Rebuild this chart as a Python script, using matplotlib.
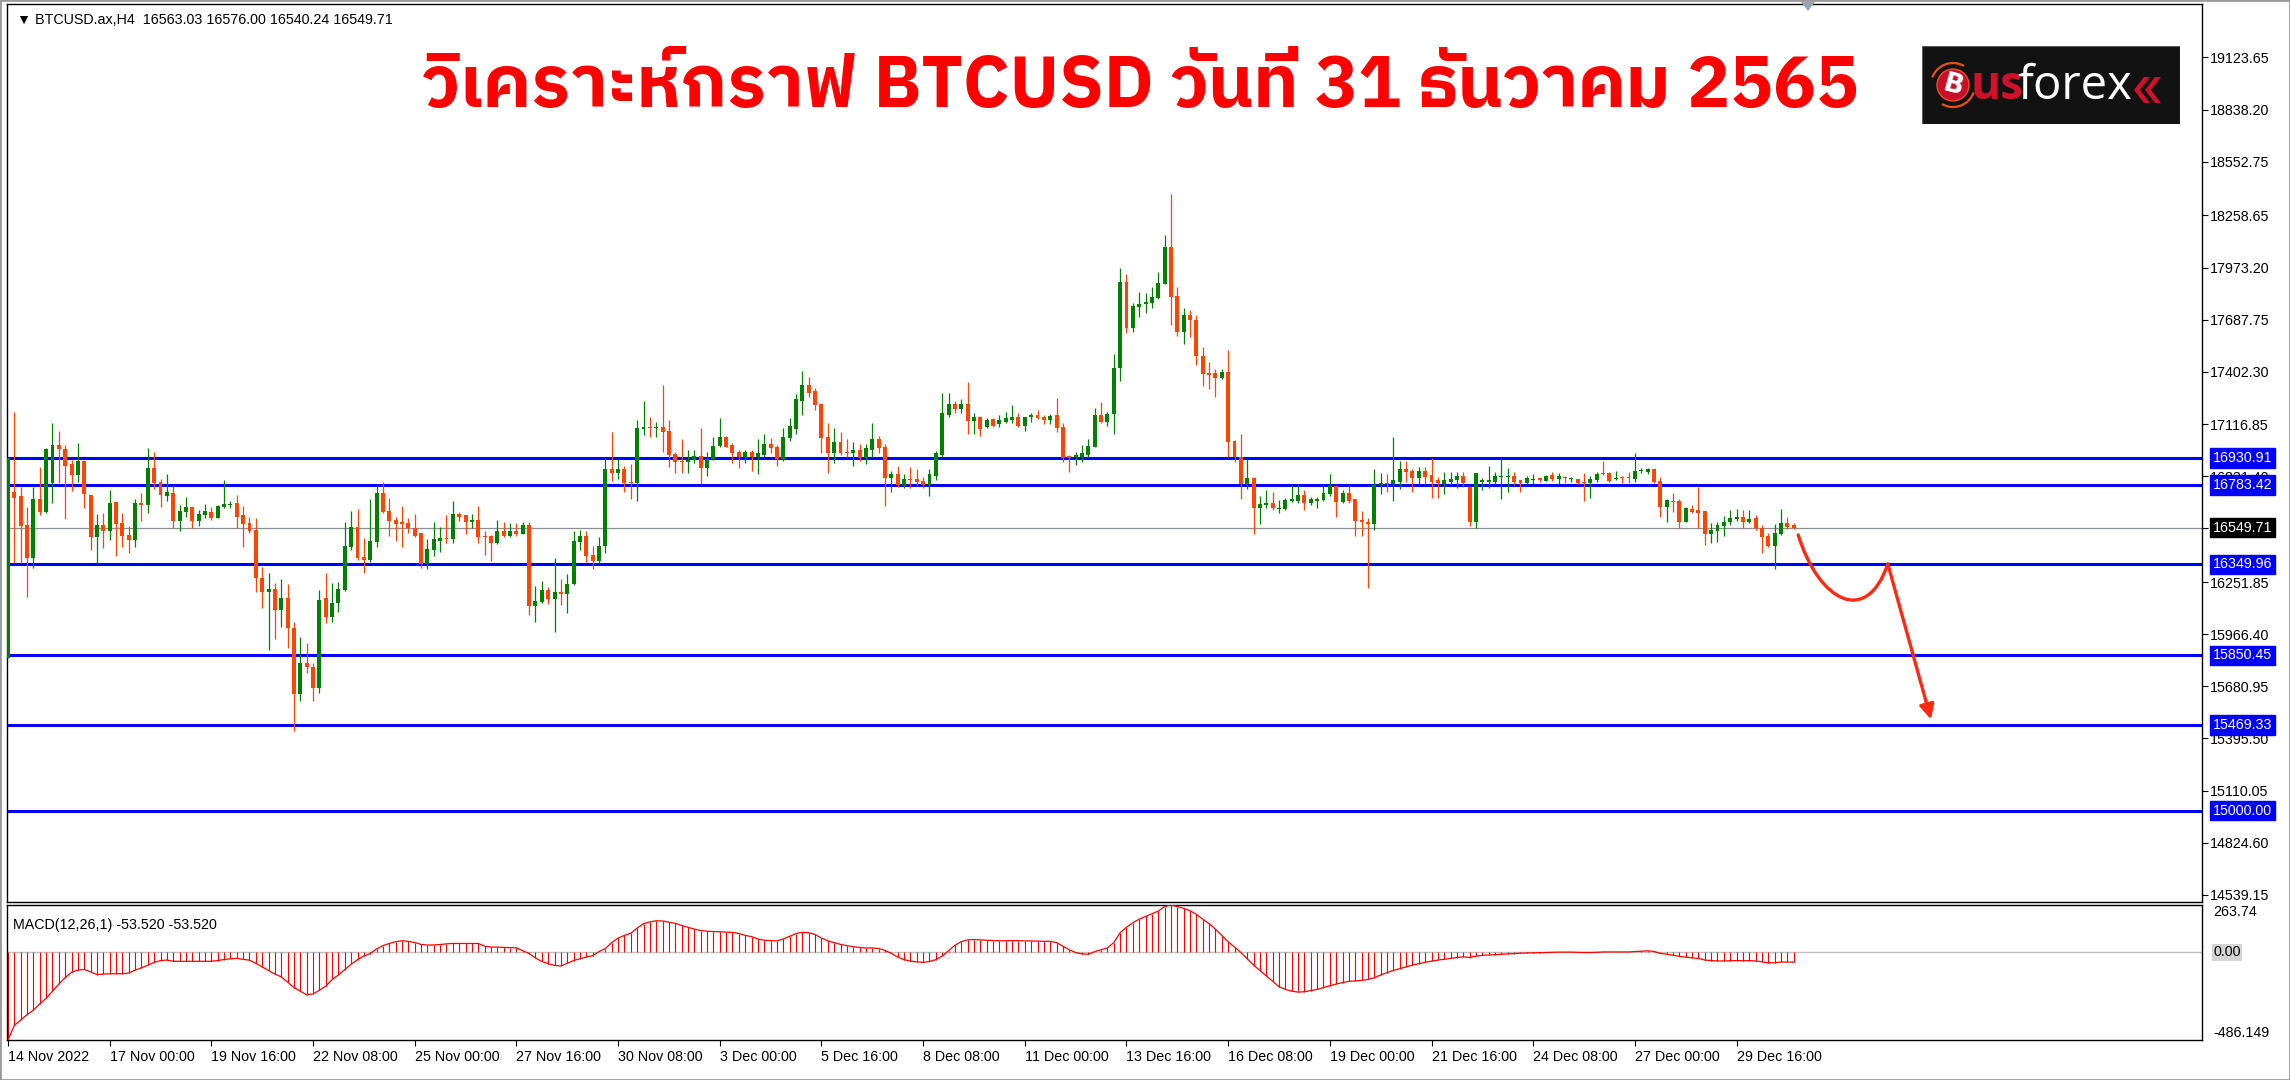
import numpy as np
import matplotlib
matplotlib.use("Agg")
import matplotlib.pyplot as plt
import matplotlib.transforms as mtransforms
from matplotlib import font_manager
from matplotlib.ft2font import FT2Font
from matplotlib.patches import Rectangle, Circle, Polygon, PathPatch, Arc
from matplotlib.path import Path

# H4 candles, 14 Nov 2022 08:00 -> 31 Dec 2022 04:00
opens = [
    15834, 16747, 16723, 16564, 16385, 16705, 16637, 16792, 17000, 16980,
    16896, 16838, 16915, 16728, 16497, 16564, 16533, 16690, 16573, 16511,
    16482, 16686, 16672, 16878, 16798, 16725, 16738, 16586, 16637, 16661,
    16586, 16619, 16634, 16604, 16664, 16672, 16683, 16619, 16573, 16537,
    16276, 16196, 16214, 16099, 16163, 15998, 15637, 15807, 15789, 15670,
    16163, 16062, 16135, 16208, 16446, 16555, 16387, 16373, 16473, 16738,
    16641, 16592, 16582, 16573, 16546, 16519, 16349, 16427, 16478, 16495,
    16488, 16624, 16619, 16579, 16592, 16506, 16506, 16464, 16531, 16506,
    16531, 16515, 16564, 16123, 16141, 16208, 16159, 16199, 16185, 16239,
    16473, 16506, 16400, 16367, 16449, 16871, 16847, 16871, 16798, 16792,
    17090, 17103, 17097, 17103, 17079, 16953, 16915, 16907, 16920, 16944,
    16874, 16925, 16998, 17044, 17002, 16966, 16938, 16966, 16938, 16947,
    17008, 16993, 16924, 17039, 17090, 17245, 17331, 17298, 17227, 17044,
    16957, 17017, 16966, 16957, 16975, 16929, 16975, 17035, 16993, 16820,
    16843, 16783, 16816, 16816, 16807, 16783, 16834, 16947, 17166, 17227,
    17199, 17227, 17135, 17157, 17099, 17143, 17117, 17130, 17139, 17157,
    17106, 17154, 17166, 17157, 17139, 17166, 17103, 16942, 16938, 16938,
    16947, 16993, 17166, 17126, 17170, 17422, 17896, 17641, 17760, 17772,
    17778, 17805, 17884, 18088, 17818, 17623, 17714, 17687, 17491, 17395,
    17395, 17367, 17400, 17026, 16938, 16789, 16823, 16655, 16674, 16686,
    16652, 16652, 16697, 16697, 16728, 16683, 16697, 16701, 16732, 16780,
    16688, 16738, 16705, 16592, 16582, 16568, 16783, 16796, 16789, 16801,
    16869, 16862, 16820, 16862, 16838, 16811, 16789, 16801, 16811, 16834,
    16774, 16579, 16801, 16801, 16801, 16829, 16829, 16834, 16811, 16792,
    16811, 16822, 16805, 16838, 16814, 16829, 16816, 16816, 16801, 16792,
    16811, 16847, 16847, 16816, 16829, 16829, 16816, 16860, 16856, 16869,
    16807, 16664, 16696, 16697, 16582, 16652, 16646, 16641, 16515, 16533,
    16560, 16579, 16597, 16606, 16582, 16601, 16546, 16506, 16449, 16515,
    16573, 16563.03]
highs = [
    16929, 17185, 16774, 16664, 16774, 16880, 16985, 17124, 17079, 17000,
    16920, 17011, 16920, 16730, 16624, 16628, 16756, 16692, 16628, 16559,
    16705, 16738, 16984, 16966, 16816, 16842, 16778, 16674, 16719, 16663,
    16646, 16677, 16664, 16672, 16811, 16697, 16728, 16668, 16610, 16601,
    16336, 16303, 16245, 16269, 16241, 16035, 15953, 15920, 15807, 16208,
    16303, 16245, 16254, 16582, 16641, 16650, 16491, 16705, 16778, 16798,
    16710, 16610, 16668, 16601, 16624, 16522, 16486, 16582, 16555, 16619,
    16696, 16637, 16620, 16623, 16668, 16531, 16507, 16592, 16582, 16577,
    16573, 16582, 16582, 16232, 16259, 16227, 16382, 16267, 16294, 16531,
    16537, 16531, 16451, 16500, 16929, 17072, 16925, 16887, 16896, 17139,
    17243, 17157, 17130, 17331, 17139, 16966, 17033, 16975, 16975, 17093,
    16966, 17044, 17148, 17050, 17011, 16975, 16975, 16975, 17033, 17061,
    17039, 17002, 17093, 17148, 17280, 17409, 17376, 17312, 17230, 17121,
    17097, 17072, 17035, 17020, 17006, 17006, 17124, 17051, 17006, 16862,
    16887, 16843, 16880, 16871, 16829, 16871, 16969, 17289, 17289, 17245,
    17252, 17349, 17179, 17160, 17148, 17152, 17166, 17185, 17221, 17179,
    17157, 17179, 17194, 17166, 17170, 17261, 17121, 16947, 16966, 17002,
    17033, 17206, 17236, 17181, 17499, 17969, 17937, 17781, 17842, 17833,
    17869, 17947, 18152, 18376, 17869, 17750, 17741, 17714, 17541, 17458,
    17416, 17416, 17522, 17030, 17062, 16924, 16825, 16723, 16756, 16747,
    16701, 16710, 16783, 16783, 16756, 16719, 16719, 16783, 16842, 16783,
    16756, 16780, 16707, 16643, 16604, 16869, 16851, 16842, 17044, 16915,
    16915, 16869, 16884, 16884, 16929, 16829, 16856, 16856, 16856, 16852,
    16776, 16849, 16820, 16887, 16852, 16924, 16874, 16852, 16813, 16832,
    16842, 16829, 16836, 16852, 16847, 16832, 16829, 16818, 16847, 16834,
    16856, 16915, 16856, 16860, 16832, 16852, 16957, 16878, 16878, 16871,
    16825, 16705, 16738, 16705, 16664, 16674, 16774, 16643, 16577, 16582,
    16613, 16646, 16650, 16646, 16646, 16619, 16564, 16519, 16568, 16652,
    16610, 16576.00]
lows = [
    15834, 16354, 16354, 16168, 16331, 16619, 16630, 16686, 16792, 16595,
    16750, 16801, 16655, 16427, 16358, 16436, 16482, 16394, 16446, 16409,
    16446, 16586, 16628, 16759, 16664, 16697, 16546, 16531, 16610, 16546,
    16560, 16604, 16592, 16600, 16655, 16655, 16546, 16446, 16519, 16199,
    16108, 15880, 15940, 16008, 15889, 15436, 15600, 15756, 15600, 15642,
    16026, 16035, 16086, 16205, 16427, 16373, 16303, 16363, 16446, 16628,
    16506, 16477, 16446, 16522, 16500, 16331, 16321, 16394, 16418, 16464,
    16464, 16586, 16513, 16546, 16464, 16400, 16367, 16462, 16497, 16497,
    16506, 16513, 16071, 16035, 16135, 16132, 15976, 16126, 16080, 16236,
    16427, 16363, 16323, 16358, 16409, 16805, 16816, 16747, 16706, 16697,
    17057, 17044, 17044, 16962, 16880, 16847, 16851, 16847, 16902, 16789,
    16834, 16920, 16993, 16990, 16905, 16874, 16905, 16862, 16843, 16935,
    16960, 16887, 16916, 17024, 17062, 17166, 17263, 17194, 16957, 16851,
    16905, 16947, 16935, 16887, 16915, 16898, 16935, 16960, 16670, 16747,
    16770, 16765, 16765, 16780, 16765, 16725, 16811, 16938, 17154, 17176,
    17176, 17062, 17062, 17053, 17093, 17099, 17099, 17121, 17121, 17103,
    17081, 17126, 17144, 17115, 17115, 17072, 16907, 16852, 16893, 16911,
    16938, 16989, 17124, 17108, 17062, 17353, 17614, 17623, 17701, 17727,
    17750, 17800, 17884, 17659, 17599, 17553, 17595, 17440, 17325, 17309,
    17267, 17362, 16938, 16907, 16706, 16759, 16515, 16568, 16655, 16646,
    16628, 16646, 16692, 16686, 16646, 16674, 16655, 16697, 16723, 16610,
    16683, 16686, 16506, 16506, 16217, 16537, 16732, 16747, 16697, 16759,
    16801, 16747, 16789, 16789, 16710, 16710, 16734, 16789, 16765, 16774,
    16559, 16549, 16756, 16769, 16787, 16705, 16747, 16783, 16747, 16789,
    16789, 16801, 16803, 16807, 16789, 16792, 16800, 16789, 16697, 16714,
    16801, 16838, 16801, 16811, 16792, 16792, 16801, 16847, 16842, 16792,
    16610, 16579, 16637, 16546, 16579, 16628, 16546, 16455, 16464, 16469,
    16506, 16564, 16588, 16546, 16573, 16537, 16413, 16442, 16323, 16509,
    16542, 16540.24]
closes = [
    16929, 16710, 16560, 16385, 16705, 16637, 16980, 17000, 16978, 16889,
    16838, 16915, 16732, 16497, 16564, 16533, 16686, 16568, 16506, 16482,
    16686, 16672, 16878, 16792, 16728, 16747, 16586, 16641, 16661, 16586,
    16623, 16641, 16601, 16670, 16679, 16676, 16610, 16568, 16533, 16272,
    16196, 16214, 16099, 16163, 15998, 15637, 15807, 15785, 15670, 16153,
    16062, 16135, 16214, 16451, 16555, 16382, 16373, 16477, 16738, 16634,
    16586, 16568, 16568, 16546, 16506, 16349, 16433, 16488, 16495, 16488,
    16624, 16610, 16579, 16592, 16500, 16500, 16464, 16531, 16506, 16531,
    16513, 16564, 16123, 16148, 16208, 16159, 16199, 16185, 16241, 16477,
    16506, 16394, 16367, 16451, 16871, 16847, 16871, 16792, 16792, 17093,
    17103, 17097, 17103, 17072, 16947, 16907, 16907, 16920, 16944, 16874,
    16925, 16998, 17044, 16993, 16960, 16938, 16966, 16938, 16957, 17008,
    16984, 16924, 17044, 17106, 17254, 17331, 17289, 17221, 17039, 16957,
    17017, 16960, 16957, 16975, 16929, 16984, 17035, 16984, 16820, 16843,
    16783, 16816, 16811, 16801, 16783, 16843, 16957, 17176, 17227, 17199,
    17227, 17135, 17157, 17090, 17139, 17108, 17139, 17148, 17157, 17106,
    17154, 17166, 17148, 17139, 17163, 17097, 16929, 16929, 16947, 16957,
    16998, 17166, 17126, 17172, 17426, 17896, 17641, 17765, 17774, 17783,
    17811, 17887, 18088, 17814, 17619, 17714, 17687, 17491, 17389, 17385,
    17371, 17400, 17020, 16938, 16789, 16823, 16655, 16679, 16686, 16655,
    16659, 16701, 16706, 16728, 16683, 16705, 16706, 16738, 16780, 16688,
    16738, 16697, 16586, 16579, 16568, 16783, 16796, 16789, 16811, 16869,
    16856, 16820, 16862, 16829, 16801, 16792, 16811, 16816, 16834, 16792,
    16579, 16847, 16811, 16811, 16832, 16834, 16834, 16798, 16792, 16820,
    16816, 16811, 16834, 16816, 16834, 16820, 16822, 16792, 16792, 16816,
    16843, 16843, 16807, 16823, 16820, 16820, 16860, 16862, 16869, 16798,
    16664, 16701, 16688, 16582, 16655, 16637, 16628, 16515, 16537, 16564,
    16582, 16604, 16606, 16582, 16597, 16546, 16497, 16449, 16519, 16573,
    16551, 16549.71]
macd = [
    -486, -405, -375, -345, -320, -285, -255, -215, -175, -140,
    -110, -98, -94, -108, -123, -120, -118, -118, -118, -114,
    -98, -85, -71, -55, -45, -42, -49, -49, -49, -49,
    -49, -49, -49, -45, -39, -35, -33, -38, -43, -60,
    -80, -100, -120, -135, -165, -195, -215, -235, -230, -210,
    -187, -150, -125, -95, -65, -40, -20, -6, 20, 38,
    50, 60, 65, 62, 55, 45, 41, 42, 44, 48,
    50, 50, 50, 50, 50, 35, 30, 30, 28, 27,
    26, 10, -6, -30, -50, -62, -72, -75, -60, -45,
    -35, -25, -18, 5, 22, 55, 80, 95, 107, 135,
    160, 170, 176, 175, 168, 162, 150, 140, 130, 122,
    118, 116, 115, 113, 112, 105, 95, 88, 75, 68,
    66, 64, 75, 90, 105, 112, 110, 100, 80, 65,
    55, 45, 38, 32, 28, 25, 25, 22, 12, -5,
    -25, -40, -48, -52, -55, -50, -40, -20, 10, 40,
    60, 70, 72, 70, 68, 66, 65, 65, 66, 66,
    64, 64, 63, 62, 62, 55, 35, 15, 0, -8,
    -10, 5, 15, 25, 55, 110, 140, 165, 185, 200,
    215, 230, 255, 263.74, 255, 245, 232, 212, 185, 160,
    130, 95, 60, 30, 0, -35, -70, -100, -130, -160,
    -190, -205, -215, -220, -218, -212, -205, -195, -185, -175,
    -168, -160, -158, -155, -150, -140, -125, -112, -100, -90,
    -80, -70, -62, -55, -48, -42, -38, -33, -28, -24,
    -28, -20, -16, -14, -12, -10, -8, -6, -4, -3,
    -2, -1, 0, 1, 2, 2, 2, 1, 0, 0,
    1, 3, 3, 3, 3, 3, 5, 7, 9, 6,
    -5, -10, -15, -22, -26, -30, -33, -42, -45, -47,
    -47, -46, -45, -46, -45, -47, -52, -58, -57, -53,
    -53, -53.52]

levels = [16930.91, 16783.42, 16349.96, 15850.45, 15469.33, 15000.00]
last_price = 16549.71
price_ticks = [19123.65, 18838.20, 18552.75, 18258.65, 17973.20, 17687.75,
               17402.30, 17116.85, 16831.40, 16545.95, 16251.85, 15966.40,
               15680.95, 15395.50, 15110.05, 14824.60, 14539.15]
macd_max, macd_min = 263.74, -486.149
time_labels = ["14 Nov 2022", "17 Nov 00:00", "19 Nov 16:00", "22 Nov 08:00",
               "25 Nov 00:00", "27 Nov 16:00", "30 Nov 08:00", "3 Dec 00:00",
               "5 Dec 16:00", "8 Dec 08:00", "11 Dec 00:00", "13 Dec 16:00",
               "16 Dec 08:00", "19 Dec 00:00", "21 Dec 16:00", "24 Dec 08:00",
               "27 Dec 00:00", "29 Dec 16:00"]
bars_per_label = 16

title = "วิเคราะห์กราฟ BTCUSD วันที่ 31 ธันวาคม 2565"
header = "\u25bc BTCUSD.ax,H4  16563.03 16576.00 16540.24 16549.71"
macd_text = "MACD(12,26,1) -53.520 -53.520"

# hand-drawn forecast arrow (bar index, price)
arrow_curve = [(281.7, 16510), (285.0, 16140), (292.5, 16010), (295.8, 16351)]
arrow_tip = (302.6, 15500)

UI = ["Liberation Sans", "DejaVu Sans"]
plt.rcParams["font.family"] = UI
FS = 10.3


def thai_font():
    hits = []
    for f in font_manager.fontManager.ttflist:
        try:
            if 0x0E27 in FT2Font(f.fname).get_charmap():
                hits.append(f)
        except Exception:
            continue
    if not hits:
        return "DejaVu Sans"
    def bold(f):
        w = f.weight
        return w == "bold" or (isinstance(w, int) and w >= 600)
    hits.sort(key=lambda f: ("Thai" not in f.name, not bold(f)))
    return hits[0].name


W, H = 2290, 1080
fig = plt.figure(figsize=(W / 100, H / 100), dpi=100)
fig.patch.set_facecolor("white")


def box(x0, y0, x1, y1):
    return [x0 / W, 1 - y1 / H, (x1 - x0) / W, (y1 - y0) / H]


ax = fig.add_axes(box(6.5, 4, 2202, 902))
axm = fig.add_axes(box(6.5, 905, 2202, 1040))

o = np.array(opens, float)
h = np.array(highs, float)
l = np.array(lows, float)
c = np.array(closes, float)
x = np.arange(len(c))
col = np.where(c >= o, "#008000", "#ff4500")

xlim = ((6.5 - 8) / 6.355, (2202 - 8) / 6.355)

# levels and current price
for lv in levels:
    ax.axhline(lv, color="#0000ff", lw=2.2, zorder=2)
ax.axhline(last_price, color="#8a8f96", lw=0.9, zorder=1)

# candles
ax.vlines(x, l, h, colors=col, lw=0.9, zorder=3)
ax.bar(x, np.maximum(np.abs(c - o), 5.5), 0.62, bottom=np.minimum(o, c),
       color=col, linewidth=0, zorder=3)

# forecast arrow
codes = [Path.MOVETO, Path.CURVE4, Path.CURVE4, Path.CURVE4]
ax.add_patch(PathPatch(Path(arrow_curve, codes), fill=False, ec="#ff2a12", lw=2.4,
                       capstyle="round", zorder=4))
ax.annotate("", xy=arrow_tip, xytext=arrow_curve[-1],
            arrowprops=dict(arrowstyle="-|>", color="#ff2a12", lw=2.4,
                            mutation_scale=22, shrinkA=0, shrinkB=0), zorder=4)

ax.set_xlim(*xlim)
ax.set_ylim(14500.4, 19416.1)
ax.set_xticks([])
ax.yaxis.tick_right()
ax.set_yticks(price_ticks)
ax.set_yticklabels([f"{v:.2f}" for v in price_ticks])
ax.tick_params(axis="y", direction="out", length=4, width=0.8, pad=2,
               labelsize=FS, colors="black")
for s in ax.spines.values():
    s.set_color("black")
    s.set_linewidth(1.0)

trans = mtransforms.blended_transform_factory(ax.transAxes, ax.transData)
xr = 1 + 11 / (2202 - 6.5)
for lv in levels:
    ax.text(xr, lv, f"{lv:.2f}", transform=trans, color="white", fontsize=FS,
            va="center", ha="left", clip_on=False, zorder=6,
            bbox=dict(boxstyle="square,pad=0.18", fc="#0000ff", ec="#0000ff"))
ax.text(xr, last_price, f"{last_price:.2f}", transform=trans, color="white",
        fontsize=FS, va="center", ha="left", clip_on=False, zorder=6,
        bbox=dict(boxstyle="square,pad=0.18", fc="black", ec="black"))

# MACD panel
m = np.array(macd, float)
axm.axhline(0, color="#c0c0c0", lw=1.0, zorder=1)
axm.vlines(x, 0, m, colors="#ff0000", lw=0.8, zorder=2)
axm.plot(x, m, color="#ff0000", lw=0.9, zorder=3)
axm.set_xlim(*xlim)
axm.set_ylim(macd_min, macd_max)
axm.set_yticks([])
axm.set_xticks(np.arange(len(time_labels)) * bars_per_label)
axm.set_xticklabels(time_labels, ha="left")
axm.tick_params(axis="x", direction="out", length=4, width=0.8, pad=3,
                labelsize=FS, colors="black")
for s in axm.spines.values():
    s.set_color("black")
    s.set_linewidth(1.0)
tm = mtransforms.blended_transform_factory(axm.transAxes, axm.transData)
axm.text(xr, macd_max, f"{macd_max:.2f}", transform=tm, fontsize=FS,
         va="top", ha="left", clip_on=False)
axm.text(xr, 0, "0.00", transform=tm, fontsize=FS, va="center", ha="left",
         clip_on=False, bbox=dict(boxstyle="square,pad=0.1", fc="#d4d4d4", ec="none"))
axm.text(xr, macd_min, f"{macd_min:.3f}", transform=tm, fontsize=FS,
         va="bottom", ha="left", clip_on=False)
axm.text(0.003, 0.9, macd_text, transform=axm.transAxes, fontsize=FS, va="top")

# header, title
fig.text(17 / W, 1 - 20 / H, header, fontsize=FS, va="center", ha="left")
tf = thai_font()
fig.text(1140 / W, 1 - 87 / H, title, color="#ff0000", fontsize=51.5,
         fontweight="bold", family=[tf, "DejaVu Sans"], ha="center", va="center")

# logo
lg = fig.add_axes(box(1922, 46, 2180, 124))
lg.set_zorder(5)
lg.set_xlim(0, 258)
lg.set_ylim(78, 0)
lg.axis("off")
lg.add_patch(Rectangle((0, 0), 258, 78, fc="#121212", ec="#5a5a5a", lw=0.8))
lg.add_patch(Arc((31, 39), 44, 44, theta1=200, theta2=300, color="#e8501c", lw=1.6))
lg.add_patch(Arc((31, 39), 44, 44, theta1=20, theta2=120, color="#e8501c", lw=1.6))
lg.add_patch(Circle((31, 39), 16, fc="#c8102e", ec="#e8501c", lw=1))
lg.text(31, 40, "B", color="white", fontsize=19, fontweight="bold", rotation=-15,
        ha="center", va="center", family="DejaVu Sans")
lg.text(49, 53, "us", color="#d0112b", fontsize=33, fontweight="bold",
        va="baseline", ha="left", family=["Open Sans", "DejaVu Sans"])
lg.text(95, 53, "forex", color="white", fontsize=34, va="baseline", ha="left",
        family=["Open Sans", "DejaVu Sans"])
for dx in (0, 11):
    lg.add_patch(Polygon([(222 + dx, 31), (212 + dx, 44), (222 + dx, 57),
                          (228 + dx, 57), (218 + dx, 44), (228 + dx, 31)],
                         closed=True, fc="#d0112b", ec="none"))

# window frame and chart-shift marker
fig.add_artist(Rectangle((0, 0), 1, 1, transform=fig.transFigure, fill=False,
                         ec="#9a9a9a", lw=2))
fig.add_artist(Polygon([(1801 / W, 1 - 2 / H), (1815 / W, 1 - 2 / H),
                        (1808 / W, 1 - 11 / H)], closed=True,
                       transform=fig.transFigure, fc="#9aa4b0", ec="none"))

fig.savefig("out.png", dpi=100)
